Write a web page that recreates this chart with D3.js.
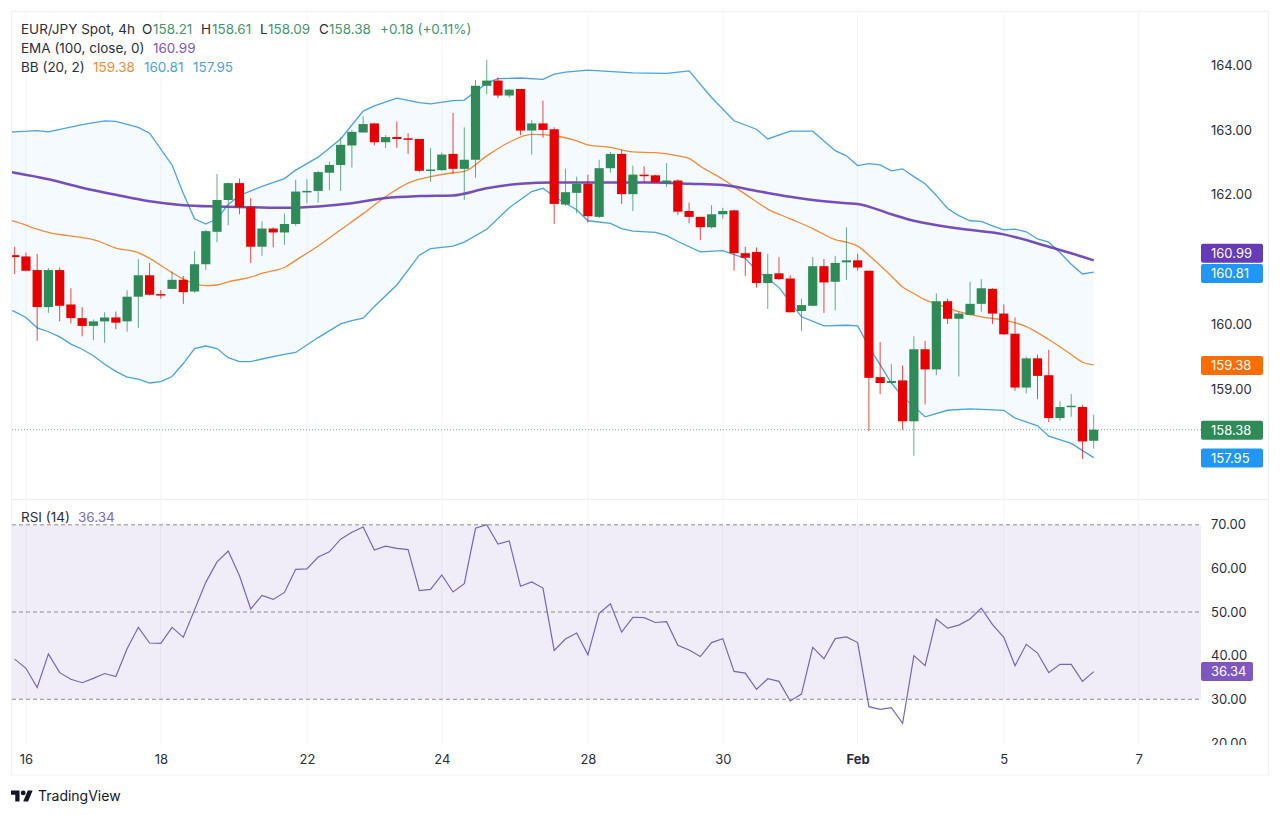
<!DOCTYPE html>
<html><head><meta charset="utf-8">
<script src="https://d3js.org/d3.v7.min.js"></script>
<style>
html,body{margin:0;padding:0;background:#fff;overflow:hidden}
svg{display:block}
text{font-family:Inter,"Noto Sans",sans-serif;font-size:13px;fill:#2a2e39}
.domain{display:none}
</style></head><body>
<svg id="c" width="1280" height="815"></svg>
<script>
const candleOpen=[161.07,161.05,160.84,160.27,160.84,160.31,160.10,159.98,160.05,160.11,
160.05,160.43,160.76,160.47,160.55,160.69,160.51,160.93,161.43,161.92,
162.18,161.81,161.20,161.48,161.42,161.55,162.05,162.06,162.34,162.46,
162.76,162.96,163.10,162.81,162.89,162.87,162.86,162.38,162.38,162.63,
162.40,162.54,163.68,163.76,163.53,163.63,162.99,163.10,163.01,161.85,
162.03,162.17,161.66,162.41,162.63,162.01,162.31,162.30,162.19,162.22,
161.75,161.66,161.50,161.70,161.76,161.10,161.12,160.64,160.79,160.71,
160.21,160.29,160.90,160.66,160.96,160.99,160.83,159.19,159.10,159.14,
158.51,159.62,159.31,160.36,160.09,160.15,160.32,160.55,160.17,159.86,
159.03,159.48,159.22,158.56,158.74,158.73,158.21];
const candleClose=[161.04,160.83,160.27,160.84,160.29,160.10,159.98,160.05,160.11,160.03,
160.43,160.76,160.46,160.46,160.69,160.50,160.93,161.44,161.92,162.18,
161.81,161.20,161.48,161.42,161.55,162.05,162.06,162.35,162.46,162.77,
162.97,163.09,162.81,162.89,162.86,162.85,162.37,162.39,162.62,162.40,
162.54,163.68,163.76,163.53,163.62,162.99,163.10,163.00,161.86,162.04,
162.17,161.67,162.41,162.63,162.01,162.31,162.30,162.19,162.22,161.74,
161.66,161.50,161.70,161.75,161.10,161.03,160.64,160.78,160.70,160.19,
160.30,160.90,160.65,160.95,160.99,160.88,159.18,159.10,159.13,158.51,
159.62,159.31,160.36,160.09,160.17,160.32,160.56,160.17,159.85,159.03,
159.48,159.21,158.56,158.73,158.75,158.20,158.38];
const candleHigh=[161.20,161.11,161.09,160.87,160.88,160.56,160.27,160.08,160.19,160.20,
160.53,161.01,160.95,160.53,160.82,160.75,161.13,161.46,162.32,162.19,
162.25,161.95,161.59,161.50,161.71,162.23,162.24,162.37,162.51,162.89,
163.00,163.21,163.11,162.92,163.13,162.95,162.86,162.72,162.65,163.26,
163.04,163.77,164.08,163.81,163.63,163.63,163.15,163.45,163.04,162.40,
162.28,162.31,162.54,162.66,162.69,162.45,162.44,162.31,162.49,162.24,
161.88,161.66,161.84,161.80,161.77,161.20,161.19,161.09,161.04,160.76,
160.40,161.04,161.01,161.06,161.50,161.09,160.83,159.73,159.39,159.37,
159.82,159.75,160.48,160.40,160.20,160.66,160.70,160.56,160.31,160.11,
159.51,159.54,159.61,158.82,158.93,158.76,158.61];
const candleLow=[160.78,160.82,159.75,160.18,160.05,160.02,159.82,159.76,159.72,159.93,
159.89,159.95,160.45,160.40,160.55,160.32,160.49,160.84,161.27,161.53,
161.70,160.95,161.06,161.19,161.23,161.52,161.87,161.88,162.07,162.06,
162.42,162.96,162.76,162.72,162.72,162.63,162.35,162.20,162.37,162.32,
161.92,162.26,163.55,163.49,163.50,162.92,162.62,162.88,161.55,161.83,
161.71,161.57,161.64,162.34,161.86,161.75,162.19,162.19,162.12,161.69,
161.56,161.30,161.48,161.63,160.83,160.75,160.57,160.24,160.69,160.19,
159.90,160.28,160.18,160.22,160.69,160.83,158.36,158.93,159.09,158.38,
157.98,158.77,159.22,160.01,159.20,160.14,160.20,160.01,159.84,158.98,
158.94,158.85,158.50,158.52,158.58,157.93,158.09];

const emaBars=[-1,0,3,6,9,12,15,18,21,24,27,30,33,36,39,42,45,48,51,54,57,60,63,66,69,72,74,75,78,80,84,88,92,94,96];
const emaValues=[162.37,162.34,162.24,162.11,162.00,161.90,161.84,161.82,161.81,161.80,161.82,161.87,161.95,161.98,161.99,162.10,162.17,162.19,162.19,162.19,162.19,162.17,162.15,162.06,161.97,161.90,161.87,161.86,161.70,161.60,161.48,161.39,161.20,161.10,160.99];

const basisBars=[-1,0,2,3,6,7,9,11,12,14,15,16,17,18,19,21,22,23,24,25,27,29,31,33,35,36,37,39,40,42,44,46,48,50,51,53,55,57,59,60,61,63,65,67,69,71,73,74,75,76,77,78,79,80,81,82,84,86,88,90,92,94,95,96];
const basisValues=[161.63,161.59,161.47,161.42,161.34,161.31,161.18,161.11,161.02,160.80,160.70,160.63,160.60,160.61,160.66,160.73,160.79,160.83,160.88,160.99,161.21,161.46,161.71,161.97,162.18,162.24,162.28,162.34,162.36,162.60,162.81,162.93,162.91,162.83,162.77,162.73,162.66,162.65,162.60,162.56,162.44,162.24,162.01,161.78,161.63,161.48,161.31,161.27,161.21,161.07,160.91,160.75,160.58,160.48,160.38,160.32,160.20,160.12,160.07,159.97,159.77,159.54,159.42,159.38];

const upperBars=[-1,0,2,3,6,8,9,11,12,14,15,16,17,18,19,20,22,24,25,27,29,31,32,34,36,37,39,40,41,42,43,45,47,48,49,51,55,58,60,62,64,66,67,69,71,73,74,75,76,77,78,79,80,81,82,83,84,85,86,87,88,89,90,91,92,93,94,95,96];
const upperValues=[162.96,162.97,162.99,162.97,163.08,163.14,163.13,163.04,162.95,162.46,162.02,161.63,161.55,161.63,161.85,161.99,162.13,162.25,162.38,162.58,162.86,163.29,163.37,163.49,163.42,163.40,163.45,163.46,163.59,163.72,163.79,163.80,163.78,163.86,163.89,163.92,163.88,163.87,163.91,163.50,163.14,163.01,162.86,162.98,162.98,162.68,162.60,162.45,162.48,162.46,162.37,162.40,162.28,162.17,161.99,161.79,161.68,161.60,161.59,161.52,161.46,161.47,161.43,161.32,161.27,161.11,160.93,160.78,160.81];

const lowerBars=[-1,0,1,2,3,4,5,6,7,8,9,10,11,12,13,14,15,16,17,18,19,20,21,22,24,25,27,29,30,31,32,34,36,37,39,40,42,44,46,47,48,49,50,51,53,54,55,57,58,59,61,63,65,66,67,68,69,70,72,74,75,76,77,78,79,80,81,83,85,88,89,91,92,94,96];
const lowerValues=[160.26,160.20,160.11,159.95,159.89,159.81,159.70,159.62,159.52,159.39,159.28,159.19,159.16,159.10,159.12,159.20,159.40,159.63,159.67,159.63,159.49,159.43,159.43,159.47,159.54,159.57,159.80,160.01,160.06,160.10,160.28,160.61,161.07,161.17,161.21,161.27,161.47,161.80,162.05,162.10,161.97,161.87,161.77,161.60,161.56,161.48,161.44,161.42,161.37,161.28,161.12,161.14,161.02,160.83,160.71,160.57,160.35,160.12,159.98,159.99,159.98,159.66,159.38,159.10,158.89,158.74,158.58,158.68,158.70,158.68,158.56,158.44,158.28,158.17,157.95];

const rsiValues=[39.2,37.1,32.7,40.4,36.1,34.6,33.8,34.8,35.9,35.2,41.6,46.5,42.9,42.8,46.5,44.2,50.5,56.8,61.5,64.0,58.3,50.7,53.8,52.9,54.5,59.8,59.9,62.6,63.8,66.7,68.3,69.5,64.2,65.1,64.6,64.3,54.9,55.2,58.5,54.6,56.5,69.2,70.0,65.6,66.3,55.9,56.9,55.5,41.2,43.8,45.2,40.2,49.7,51.9,45.4,48.8,48.7,47.6,47.8,42.4,41.3,39.8,43.0,43.9,36.4,36.0,32.3,34.7,34.1,29.6,31.2,41.9,39.3,43.9,44.3,43.0,28.3,27.7,28.1,24.5,40.0,37.7,48.4,46.3,47.0,48.4,50.9,47.1,44.2,37.7,42.6,40.6,36.1,38.0,38.0,34.1,36.34];

const priceTicks=[159,160,162,163,164];
const rsiTicks=[20,30,40,50,60,70];
const rsiLevels=[70,50,30];
const timeBars=[1,13,26,38,51,63,75,88,100];
const timeLabels=["16","18","22","24","28","30","Feb","5","7"];

const RED="#e60000",GREEN="#2e8b57",BLUE="#4aa3de",ORANGE="#f28a3a",PURPLE="#673ab7",RSI="#7665b4";
const L=12,R=1201;
const svg=d3.select("#c");
const defs=svg.append("defs");
defs.append("clipPath").attr("id","mainClip").append("rect").attr("x",L).attr("y",12).attr("width",R-L).attr("height",487);
defs.append("clipPath").attr("id","rsiAxisClip").append("rect").attr("x",R).attr("y",505).attr("width",66).attr("height",240);

const x=d3.scaleLinear().domain([0,96]).range([14.7,1093.7]);
const y=d3.scaleLinear().domain([164,159]).range([65,389.5]);
const yr=d3.scaleLinear().domain([70,20]).range([524.8,742.9]);

// frame
svg.append("rect").attr("x",11.5).attr("y",11.5).attr("width",1257).attr("height",763.5).attr("fill","#fff").attr("stroke","#eff1f4");
svg.append("line").attr("x1",12).attr("x2",1268).attr("y1",499.5).attr("y2",499.5).attr("stroke","#eceef2");

// faint vertical grid
svg.append("g").selectAll("line").data(timeBars).join("line")
 .attr("x1",d=>x(d)).attr("x2",d=>x(d)).attr("y1",12).attr("y2",745)
 .attr("stroke","#f4f5f9");

const main=svg.append("g").attr("clip-path","url(#mainClip)");
const pts=(b,v)=>b.map((d,i)=>[x(d),y(v[i])]);
const upper=pts(upperBars,upperValues),lower=pts(lowerBars,lowerValues);
const ln=d3.line();
const smooth=d3.line().curve(d3.curveMonotoneX);
main.append("path").attr("d",ln(upper.concat(lower.slice().reverse()))+"Z").attr("fill","#2196f3").attr("fill-opacity",0.05);
main.append("path").attr("d",smooth(pts(basisBars,basisValues))).attr("fill","none").attr("stroke",ORANGE).attr("stroke-width",1.3);
main.append("path").attr("d",ln(upper)).attr("fill","none").attr("stroke",BLUE).attr("stroke-width",1.3);
main.append("path").attr("d",ln(lower)).attr("fill","none").attr("stroke",BLUE).attr("stroke-width",1.3);
main.append("path").attr("d",smooth(pts(emaBars,emaValues))).attr("fill","none").attr("stroke",PURPLE).attr("stroke-width",2.5).attr("stroke-opacity",0.9);

// last price line
main.append("line").attr("x1",L).attr("x2",R).attr("y1",y(158.38)).attr("y2",y(158.38)).attr("stroke",GREEN).attr("stroke-dasharray","1 2").attr("stroke-opacity",.7);

// candles
const idx=d3.range(candleOpen.length);
const col=i=>candleClose[i]>=candleOpen[i]?GREEN:RED;
main.append("g").selectAll("line").data(idx).join("line")
 .attr("x1",i=>x(i)).attr("x2",i=>x(i)).attr("y1",i=>y(candleHigh[i])).attr("y2",i=>y(candleLow[i]))
 .attr("stroke",col).attr("stroke-width",1).attr("stroke-opacity",.72);
main.append("g").selectAll("rect").data(idx).join("rect")
 .attr("x",i=>x(i)-4.6).attr("width",9.2)
 .attr("y",i=>Math.min(y(candleOpen[i]),y(candleClose[i])))
 .attr("height",i=>Math.max(1.5,Math.abs(y(candleOpen[i])-y(candleClose[i]))))
 .attr("fill",col);

// RSI pane
svg.append("rect").attr("x",L).attr("width",R-L).attr("y",yr(70)).attr("height",yr(30)-yr(70)).attr("fill","#7e57c2").attr("fill-opacity",.11);
svg.append("g").selectAll("line").data(rsiLevels).join("line")
 .attr("x1",L).attr("x2",R).attr("y1",d=>yr(d)).attr("y2",d=>yr(d))
 .attr("stroke","#8a8d98").attr("stroke-dasharray","4 3");
svg.append("path").attr("d",d3.line().x((d,i)=>x(i)).y(d=>yr(d))(rsiValues)).attr("fill","none").attr("stroke",RSI).attr("stroke-width",1.2);

// axes
const priceAxis=svg.append("g").attr("transform",`translate(${R},0)`)
 .call(d3.axisRight(y).tickValues(priceTicks).tickFormat(d3.format(".2f")).tickSize(0).tickPadding(10));
const rsiAxis=svg.append("g").attr("clip-path","url(#rsiAxisClip)").append("g").attr("transform",`translate(${R},0)`)
 .call(d3.axisRight(yr).tickValues(rsiTicks).tickFormat(d3.format(".2f")).tickSize(0).tickPadding(10));
const timeAxis=svg.append("g").attr("transform","translate(0,752)")
 .call(d3.axisBottom(x).tickValues(timeBars).tickFormat((d,i)=>timeLabels[i]).tickSize(0).tickPadding(3));
svg.selectAll(".tick text").attr("fill","#2a2e39").style("fill","#2a2e39");
timeAxis.selectAll("text").filter(d=>d===75).style("font-weight","700");

// price badges
function badge(val,color,scale,dy,w){
  const c=scale(val)+dy;
  svg.append("rect").attr("x",R).attr("y",c-9.5).attr("width",w).attr("height",19).attr("rx",2).attr("fill",color);
  svg.append("text").attr("x",R+10).attr("y",c).attr("dy",".35em").text(val.toFixed(2)).style("fill","#fff");
}
badge(160.81,"#2196f3",y,1.4,62);
badge(160.99,"#673ab7",y,-7,62);
badge(159.38,"#ff6d00",y,0.7,62);
badge(158.38,"#2e8b57",y,0.4,62);
badge(157.95,"#2196f3",y,0.4,62);
badge(36.34,"#7e57c2",yr,0,52);

// legend
function legend(yy,parts){
  parts.forEach(([tx,px,c])=>svg.append("text").attr("x",px).attr("y",yy).text(tx).style("fill",c).style("font-size","13.5px"));
}
const K="#2a2e39",G="#4a9271";
legend(34,[["EUR/JPY Spot, 4h",21,K],["O",142,K],["158.21",153,G],["H",201,K],["158.61",212,G],["L",260,K],["158.09",268,G],["C",319,K],["158.38",329,G],["+0.18 (+0.11%)",380,G]]);
legend(53,[["EMA (100, close, 0)",21,K],["160.99",153,"#7e57c2"]]);
legend(72,[["BB (20, 2)",21,K],["159.38",93,"#f08a3c"],["160.81",144,"#4aa3de"],["157.95",193,"#4aa3de"]]);
legend(522,[["RSI (14)",21,K],["36.34",78,"#7e6bb5"]]);

// logo
const logo=svg.append("g").attr("transform","translate(11,788) scale(.61)").attr("fill","#131722");
logo.append("path").attr("d","M14 22H7V11H0V4h14v18zM28 22h-8l7.5-18h8L28 22z");
logo.append("circle").attr("cx",20).attr("cy",8).attr("r",4);
svg.append("text").attr("x",38).attr("y",801).text("TradingView").style("font-size","14px").style("fill","#131722");
</script>
</body></html>
